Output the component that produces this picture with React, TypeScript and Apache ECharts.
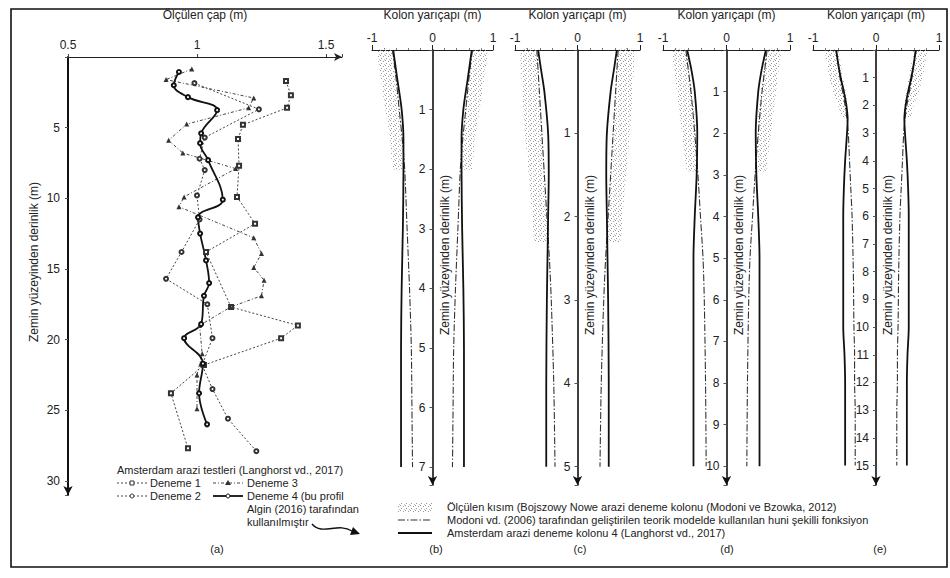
import React, { useEffect, useRef } from 'react';
import * as echarts from 'echarts';

const FONT = '"Liberation Sans", Arial, Helvetica, sans-serif';

// ---------- Panel (a): measured diameter (m) vs depth (m) ----------
const a1Dia = [1.345, 1.364, 1.349, 1.178, 1.159, 1.163, 1.155, 1.225, 1.035, 1.132, 1.391, 1.326, 1.027, 0.899, 0.965];
const a1Depth = [1.7, 2.7, 3.6, 4.8, 5.8, 7.7, 9.9, 11.8, 13.8, 17.7, 19.0, 19.9, 21.8, 23.8, 27.7];
const a2Dia = [0.99, 1.24, 1.03, 1.01, 1.03, 1.0, 1.01, 0.94, 0.88, 1.04, 1.06, 1.02, 1.06, 1.12, 1.23];
const a2Depth = [1.85, 3.7, 5.7, 7.2, 8.0, 9.8, 11.5, 13.8, 15.7, 17.5, 19.9, 21.8, 23.5, 25.6, 27.9];
const a3Dia = [0.98, 0.88, 1.22, 1.2, 0.96, 0.89, 0.945, 1.15, 0.95, 0.93, 1.22, 1.25, 1.22, 1.26, 1.25, 1.13, 1.01, 1.02, 1.0, 1.0];
const a3Depth = [0.85, 1.6, 2.9, 3.6, 4.75, 5.9, 6.8, 7.9, 9.9, 10.6, 12.8, 13.9, 14.9, 15.8, 16.9, 17.7, 19.0, 21.0, 22.5, 24.9];
const a4Dia = [0.93, 0.91, 0.965, 1.078, 1.016, 1.012, 1.043, 1.1, 1.004, 1.012, 1.035, 1.047, 1.027, 1.016, 0.95, 1.023, 1.008, 1.039];
const a4Depth = [1.06, 2.0, 2.84, 3.76, 5.4, 6.1, 7.3, 10.1, 11.35, 12.5, 14.4, 16.0, 16.9, 18.9, 19.9, 21.7, 23.8, 26.0];

// ---------- Panels (b)-(e): column radius (m) vs depth (m) ----------
const bDepth = [0, 0.5, 1, 1.5, 2, 3, 4, 5, 6, 7];
const bSolid = [0.65, 0.58, 0.51, 0.48, 0.48, 0.49, 0.51, 0.52, 0.52, 0.52];
const bModoni = [0.66, 0.6, 0.55, 0.5, 0.46, 0.42, 0.38, 0.35, 0.34, 0.33];
const bMeasDepth = [0, 0.5, 1, 1.5, 2];
const bMeasOuter = [0.9, 0.85, 0.78, 0.7, 0.65];
const bMeasInner = [0.68, 0.62, 0.56, 0.52, 0.5];

const cDepth = [0, 0.25, 0.5, 1, 1.5, 2, 2.5, 3, 4, 5];
const cSolid = [0.63, 0.58, 0.53, 0.47, 0.46, 0.47, 0.48, 0.49, 0.5, 0.5];
const cModoni = [0.65, 0.63, 0.61, 0.57, 0.53, 0.49, 0.45, 0.42, 0.38, 0.36];
const cMeasDepth = [0, 0.5, 1, 1.5, 2, 2.3];
const cMeasOuter = [0.9, 0.88, 0.84, 0.78, 0.72, 0.68];
const cMeasInner = [0.66, 0.62, 0.58, 0.54, 0.5, 0.5];

const dDepth = [0, 0.5, 1, 2, 3, 4, 5, 6, 8, 10];
const dSolid = [0.62, 0.55, 0.5, 0.46, 0.47, 0.5, 0.52, 0.52, 0.52, 0.52];
const dModoni = [0.64, 0.6, 0.56, 0.5, 0.45, 0.41, 0.37, 0.35, 0.33, 0.32];
const dMeasDepth = [0, 0.5, 1, 1.5, 2, 2.5, 2.9];
const dMeasOuter = [0.85, 0.82, 0.78, 0.74, 0.7, 0.66, 0.62];
const dMeasInner = [0.62, 0.58, 0.54, 0.5, 0.48, 0.48, 0.48];

const eDepth = [0, 0.5, 1, 1.5, 2, 2.5, 3, 4, 5, 6, 8, 10, 11, 12, 13, 15];
const eSolid = [0.63, 0.6, 0.56, 0.51, 0.47, 0.45, 0.46, 0.49, 0.51, 0.52, 0.52, 0.52, 0.5, 0.49, 0.49, 0.49];
const eModoni = [0.64, 0.6, 0.57, 0.53, 0.49, 0.46, 0.44, 0.42, 0.4, 0.38, 0.36, 0.35, 0.34, 0.34, 0.33, 0.33];
const eMeasDepth = [0, 0.5, 1, 1.5, 2, 2.4];
const eMeasOuter = [0.8, 0.78, 0.74, 0.68, 0.6, 0.55];
const eMeasInner = [0.6, 0.56, 0.52, 0.48, 0.45, 0.45];

const yMaxes = [31, 7.3, 5.22, 10.45, 15.7];
const panelLabels = ['(a)', '(b)', '(c)', '(d)', '(e)'];
const depthTitle = 'Zemin yüzeyinden derinlik (m)';

function makePattern() {
  const c = document.createElement('canvas');
  c.width = 5;
  c.height = 5;
  const ctx = c.getContext('2d');
  if (ctx) {
    ctx.clearRect(0, 0, 5, 5);
    ctx.fillStyle = '#9a9a9a';
    ctx.fillRect(0, 0, 1, 1);
    ctx.fillRect(3, 1, 1, 1);
    ctx.fillRect(1, 3, 1, 1);
    ctx.fillStyle = '#c0c0c0';
    ctx.fillRect(4, 4, 1, 1);
  }
  return { image: c, repeat: 'repeat', imageWidth: 5, imageHeight: 5 };
}

export default function App() {
  const ref = useRef<HTMLDivElement>(null);

  useEffect(() => {
    if (!ref.current) return;
    const chart = echarts.init(ref.current, null, { renderer: 'svg' });
    const pattern: any = makePattern();

    const grids = [
      { left: 68, top: 57, width: 274, height: 438 },
      { left: 372, top: 50, width: 121, height: 435 },
      { left: 515, top: 50, width: 125, height: 435 },
      { left: 663, top: 50, width: 127, height: 435 },
      { left: 813, top: 50, width: 126, height: 435 },
    ];

    const txt = { fontFamily: FONT, color: '#222' };

    const xAxes: any[] = [
      {
        gridIndex: 0, type: 'value', position: 'top', min: 0.5, max: 1.562, interval: 0.5,
        name: 'Ölçülen çap (m)', nameLocation: 'middle', nameGap: 36,
        nameTextStyle: { ...txt, fontSize: 12 },
        axisLine: { onZero: false, lineStyle: { color: '#222', width: 1 }, symbol: ['none', 'arrow'], symbolSize: [6, 8] },
        axisTick: { length: 3, lineStyle: { color: '#444' } },
        axisLabel: { ...txt, fontSize: 12, margin: 6, formatter: (v: number) => (Math.abs(v * 2 - Math.round(v * 2)) < 1e-6 ? String(v) : '') },
        splitLine: { show: false },
      },
    ];
    const yAxes: any[] = [
      {
        gridIndex: 0, type: 'value', inverse: true, min: 0, max: yMaxes[0], interval: 5,
        axisLine: { onZero: false, lineStyle: { color: '#111', width: 2 }, symbol: ['arrow', 'none'], symbolSize: [7, 9] },
        axisTick: { length: 3, lineStyle: { color: '#555' } },
        axisLabel: { ...txt, fontSize: 12, margin: 8, formatter: (v: number) => (v > 0 && v % 5 === 0 ? String(v) : '') },
        splitLine: { show: false },
      },
    ];
    for (let i = 1; i <= 4; i++) {
      xAxes.push({
        gridIndex: i, type: 'value', position: 'top', min: -1, max: 1, interval: 1,
        name: 'Kolon yarıçapı (m)', nameLocation: 'middle', nameGap: 29,
        nameTextStyle: { ...txt, fontSize: 12 },
        axisLine: { onZero: false, lineStyle: { color: '#222', width: 1 } },
        axisTick: { length: 5, lineStyle: { color: '#222' } },
        minorTick: { show: true, splitNumber: 5, length: 2, lineStyle: { color: '#777' } },
        axisLabel: { ...txt, fontSize: 12, margin: 6, formatter: (v: number) => String(v) },
        splitLine: { show: false },
      });
      yAxes.push({
        gridIndex: i, type: 'value', inverse: true, min: 0, max: yMaxes[i], interval: 1,
        position: 'left', offset: -grids[i].width / 2,
        axisLine: { onZero: false, lineStyle: { color: '#111', width: 1.6 }, symbol: ['arrow', 'none'], symbolSize: [7, 9] },
        axisTick: { length: 3, lineStyle: { color: '#555' } },
        axisLabel: { ...txt, fontSize: 12, margin: 7, interval: 0, formatter: (v: number) => (v > 0 && Number.isInteger(v) ? String(v) : '') },
        splitLine: { show: false },
      });
    }

    const dotted = (color: string) => ({ color, width: 1, type: [2, 2] as any });
    const series: any[] = [
      {
        name: 'Deneme 1', type: 'line', xAxisIndex: 0, yAxisIndex: 0,
        data: a1Dia.map((v, k) => [v, a1Depth[k]]),
        symbol: 'emptyRect', symbolSize: 4, lineStyle: dotted('#444'), itemStyle: { color: '#333', borderWidth: 1 },
      },
      {
        name: 'Deneme 2', type: 'line', xAxisIndex: 0, yAxisIndex: 0,
        data: a2Dia.map((v, k) => [v, a2Depth[k]]),
        symbol: 'emptyCircle', symbolSize: 4, lineStyle: dotted('#444'), itemStyle: { color: '#333', borderWidth: 1 },
      },
      {
        name: 'Deneme 3', type: 'line', xAxisIndex: 0, yAxisIndex: 0,
        data: a3Dia.map((v, k) => [v, a3Depth[k]]),
        symbol: 'triangle', symbolSize: 5, lineStyle: { color: '#444', width: 1, type: [3, 2, 1, 2] }, itemStyle: { color: '#333' },
      },
      {
        name: 'Deneme 4', type: 'line', xAxisIndex: 0, yAxisIndex: 0, smooth: 0.4,
        data: a4Dia.map((v, k) => [v, a4Depth[k]]),
        symbol: 'emptyCircle', symbolSize: 4, lineStyle: { color: '#111', width: 1.8 }, itemStyle: { color: '#111', borderWidth: 1 },
      },
    ];

    const panels = [
      { depth: bDepth, solid: bSolid, modoni: bModoni, md: bMeasDepth, mo: bMeasOuter, mi: bMeasInner },
      { depth: cDepth, solid: cSolid, modoni: cModoni, md: cMeasDepth, mo: cMeasOuter, mi: cMeasInner },
      { depth: dDepth, solid: dSolid, modoni: dModoni, md: dMeasDepth, mo: dMeasOuter, mi: dMeasInner },
      { depth: eDepth, solid: eSolid, modoni: eModoni, md: eMeasDepth, mo: eMeasOuter, mi: eMeasInner },
    ];

    panels.forEach((p, idx) => {
      const i = idx + 1;
      [-1, 1].forEach((sign) => {
        series.push({
          type: 'custom', xAxisIndex: i, yAxisIndex: i, silent: true, clip: false, z: 1,
          data: [[0, 0]],
          renderItem: (_params: any, api: any) => {
            const pts: number[][] = [];
            for (let k = 0; k < p.md.length; k++) pts.push(api.coord([sign * p.mo[k], p.md[k]]));
            for (let k = p.md.length - 1; k >= 0; k--) pts.push(api.coord([sign * p.mi[k], p.md[k]]));
            return {
              type: 'polygon', shape: { points: pts, smooth: 0.2 },
              style: { fill: pattern, stroke: null },
            };
          },
        });
        series.push({
          type: 'line', xAxisIndex: i, yAxisIndex: i, smooth: 0.3, showSymbol: false, silent: true, z: 3,
          data: p.depth.map((z, k) => [sign * p.modoni[k], z]),
          lineStyle: { color: '#333', width: 1.1, type: [7, 2, 1.5, 2] },
        });
        series.push({
          type: 'line', xAxisIndex: i, yAxisIndex: i, smooth: 0.3, showSymbol: false, silent: true, z: 4,
          data: p.depth.map((z, k) => [sign * p.solid[k], z]),
          lineStyle: { color: '#111', width: 1.8 },
        });
      });
    });

    const tStyle = (text: string, fs = 11) => ({ text, font: `${fs}px ${FONT}`, fill: '#222', verticalAlign: 'middle' });
    const graphic: any[] = [
      { type: 'rect', shape: { x: 11, y: 9, width: 936, height: 558 }, style: { fill: 'none', stroke: '#111', lineWidth: 1.6 }, silent: true },
      // depth titles
      { type: 'text', x: 34, y: 262, rotation: Math.PI / 2, style: { ...tStyle(depthTitle, 12), align: 'center' } },
      // legend for (a)
      { type: 'text', x: 117, y: 470, style: tStyle('Amsterdam arazi testleri (Langhorst vd., 2017)') },
      { type: 'line', shape: { x1: 117, y1: 483, x2: 147, y2: 483 }, style: { stroke: '#444', lineWidth: 1, lineDash: [2, 2] } },
      { type: 'rect', shape: { x: 130, y: 481, width: 4, height: 4 }, style: { fill: '#fff', stroke: '#333', lineWidth: 1 } },
      { type: 'text', x: 150, y: 483, style: tStyle('Deneme 1') },
      { type: 'line', shape: { x1: 213, y1: 483, x2: 243, y2: 483 }, style: { stroke: '#444', lineWidth: 1, lineDash: [3, 2, 1, 2] } },
      { type: 'polygon', shape: { points: [[228, 480], [231, 485], [225, 485]] }, style: { fill: '#333' } },
      { type: 'text', x: 247, y: 483, style: tStyle('Deneme 3') },
      { type: 'line', shape: { x1: 117, y1: 496, x2: 147, y2: 496 }, style: { stroke: '#444', lineWidth: 1, lineDash: [2, 2] } },
      { type: 'circle', shape: { cx: 132, cy: 496, r: 2 }, style: { fill: '#fff', stroke: '#333', lineWidth: 1 } },
      { type: 'text', x: 150, y: 496, style: tStyle('Deneme 2') },
      { type: 'line', shape: { x1: 213, y1: 496, x2: 243, y2: 496 }, style: { stroke: '#111', lineWidth: 1.8 } },
      { type: 'circle', shape: { cx: 228, cy: 496, r: 2 }, style: { fill: '#fff', stroke: '#111', lineWidth: 1 } },
      { type: 'text', x: 247, y: 496, style: tStyle('Deneme 4 (bu profil') },
      { type: 'text', x: 247, y: 509, style: tStyle('Algin (2016) tarafından') },
      { type: 'text', x: 247, y: 522, style: tStyle('kullanılmıştır') },
      { type: 'bezierCurve', shape: { x1: 312, y1: 524, cpx1: 322, cpy1: 536, cpx2: 338, cpy2: 522, x2: 352, y2: 531 }, style: { stroke: '#111', lineWidth: 1.4, fill: 'none' } },
      { type: 'polygon', shape: { points: [[360, 534], [350, 535], [353, 527]] }, style: { fill: '#111' } },
      // legend for (b)-(e)
      { type: 'rect', shape: { x: 398, y: 503, width: 34, height: 9 }, style: { fill: pattern, stroke: null } },
      { type: 'text', x: 447, y: 507, style: tStyle('Ölçülen kısım (Bojszowy Nowe arazi deneme kolonu (Modoni ve Bzowka, 2012)') },
      { type: 'line', shape: { x1: 398, y1: 520, x2: 432, y2: 520 }, style: { stroke: '#333', lineWidth: 1.1, lineDash: [7, 2, 1.5, 2] } },
      { type: 'text', x: 447, y: 520, style: tStyle('Modoni vd. (2006) tarafından geliştirilen teorik modelde kullanılan huni şekilli fonksiyon') },
      { type: 'line', shape: { x1: 398, y1: 533, x2: 432, y2: 533 }, style: { stroke: '#111', lineWidth: 1.8 } },
      { type: 'text', x: 447, y: 533, style: tStyle('Amsterdam arazi deneme kolonu 4 (Langhorst vd., 2017)') },
    ];
    for (let i = 1; i <= 4; i++) {
      const cx = grids[i].left + grids[i].width / 2 + 12;
      graphic.push({ type: 'text', x: cx, y: 255, rotation: Math.PI / 2, style: { ...tStyle(depthTitle, 12), align: 'center' } });
    }
    const labelX = [217, 436, 580, 727, 880];
    panelLabels.forEach((t, k) => {
      graphic.push({ type: 'text', x: labelX[k], y: 549, style: { ...tStyle(t), align: 'center' } });
    });

    chart.setOption({
      animation: false,
      backgroundColor: '#fff',
      textStyle: { fontFamily: FONT },
      grid: grids,
      xAxis: xAxes,
      yAxis: yAxes,
      series,
      graphic,
    });

    return () => chart.dispose();
  }, []);

  return <div ref={ref} style={{ width: 950, height: 578, position: 'absolute', left: 0, top: 0 }} />;
}
